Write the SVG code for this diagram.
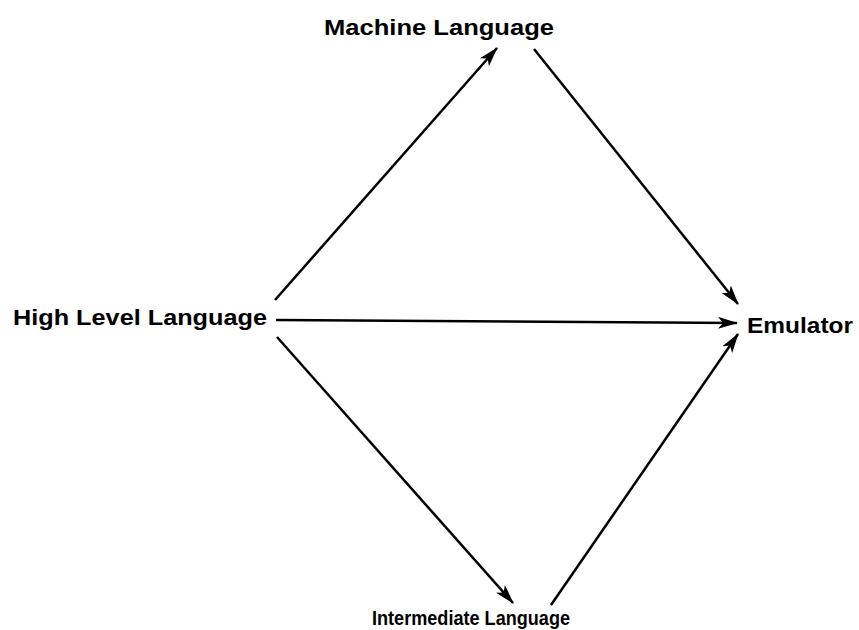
<svg xmlns="http://www.w3.org/2000/svg" width="859" height="630" viewBox="0 0 859 630">
<defs>
<style>
.lbl{font-family:"Liberation Sans",Arial,sans-serif;font-weight:bold;fill:#000;}
.big{font-size:22px;}
.small{font-size:20px;}
.edge{stroke:#000;stroke-width:2.5;fill:none;marker-end:url(#ah);}
</style>
<marker id="ah" viewBox="0 0 20 12" refX="19" refY="6" markerWidth="8" markerHeight="4.8" markerUnits="strokeWidth" orient="auto">
<path d="M0,0 L20,6 L0,12 L5,6 Z" fill="#000"/>
</marker>
</defs>
<rect width="859" height="630" fill="#fff"/>
<g id="connectors">
<line class="edge" x1="275" y1="300" x2="497" y2="48"/>
<line class="edge" x1="534" y1="49" x2="738" y2="304"/>
<line class="edge" x1="276" y1="320" x2="737" y2="323"/>
<line class="edge" x1="277" y1="337" x2="513" y2="603"/>
<line class="edge" x1="551" y1="605" x2="738" y2="334"/>
</g>
<g id="machine">
<text class="lbl big" x="324" y="35" textLength="230" lengthAdjust="spacingAndGlyphs">Machine Language</text>
</g>
<g id="high">
<text class="lbl big" x="13" y="325" textLength="254" lengthAdjust="spacingAndGlyphs">High Level Language</text>
</g>
<g id="emulator">
<text class="lbl big" x="747" y="333" textLength="106" lengthAdjust="spacingAndGlyphs">Emulator</text>
</g>
<g id="intermediate">
<text class="lbl small" x="372" y="625" textLength="198" lengthAdjust="spacingAndGlyphs">Intermediate Language</text>
</g>
</svg>
